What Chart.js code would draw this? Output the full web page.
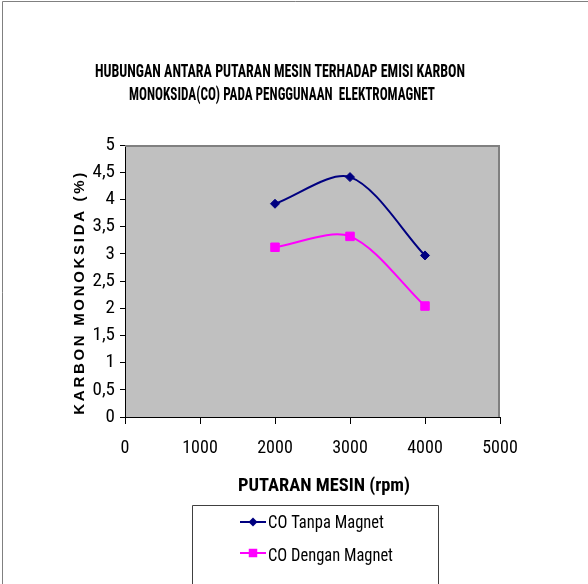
<!DOCTYPE html>
<html>
<head>
<meta charset="utf-8">
<script src="https://cdn.jsdelivr.net/npm/chart.js@4.4.1/dist/chart.umd.min.js"></script>
<style>
  html, body { margin: 0; padding: 0; background: #ffffff; }
  #wrap { width: 588px; height: 584px; }
</style>
</head>
<body>
<div id="wrap"><canvas id="chart" width="588" height="584"></canvas></div>
<script>
// Engine speed (rpm) and CO emission (%) with / without the electromagnet
const rpm = [2000, 3000, 4000];
const coTanpaMagnet = [3.92, 4.41, 2.97];
const coDenganMagnet = [3.12, 3.32, 2.04];

const xTicks = [0, 1000, 2000, 3000, 4000, 5000];
const yTicks = [0, 0.5, 1, 1.5, 2, 2.5, 3, 3.5, 4, 4.5, 5];

const seriesNames = ['CO Tanpa Magnet', 'CO Dengan Magnet'];
const seriesColors = ['#000080', '#FF00FF'];
const seriesMarkers = ['rectRot', 'rect'];

const titleLines = [
  'HUBUNGAN ANTARA PUTARAN MESIN TERHADAP EMISI KARBON',
  'MONOKSIDA(CO) PADA PENGGUNAAN  ELEKTROMAGNET'
];
const xTitle = 'PUTARAN MESIN (rpm)';
const yTitle = 'KARBON MONOKSIDA (%)';

const NARROW = '"Roboto Condensed", "Liberation Sans Narrow", "Arial Narrow", sans-serif';
const SANS = '"Liberation Sans", Arial, sans-serif';

function toPoints(xs, ys) {
  return xs.map((x, i) => ({ x: x, y: ys[i] }));
}

function drawMarker(ctx, style, color, r, x, y) {
  ctx.save();
  ctx.fillStyle = color;
  ctx.beginPath();
  if (style === 'rectRot') {
    ctx.moveTo(x - r, y);
    ctx.lineTo(x, y - r);
    ctx.lineTo(x + r, y);
    ctx.lineTo(x, y + r);
    ctx.closePath();
  } else {
    const s = r * Math.SQRT1_2;
    ctx.rect(x - s, y - s, 2 * s, 2 * s);
  }
  ctx.fill();
  ctx.restore();
}

// Background, frame, plot area, titles and the boxed legend
const decor = {
  id: 'decor',
  beforeDraw(chart) {
    const ctx = chart.ctx;
    const a = chart.chartArea;
    ctx.save();
    ctx.fillStyle = '#ffffff';
    ctx.fillRect(0, 0, chart.width, chart.height);
    // outer frame
    ctx.strokeStyle = '#808080';
    ctx.lineWidth = 1;
    ctx.beginPath();
    ctx.moveTo(2.5, chart.height);
    ctx.lineTo(2.5, 1.5);
    ctx.lineTo(chart.width, 1.5);
    ctx.stroke();
    // plot area
    ctx.fillStyle = '#C0C0C0';
    ctx.fillRect(a.left, a.top, a.right - a.left, a.bottom - a.top);
    ctx.restore();
  },
  beforeDatasetsDraw(chart) {
    const ctx = chart.ctx;
    const a = chart.chartArea;
    ctx.save();
    ctx.strokeStyle = '#808080';
    ctx.lineWidth = 2;
    ctx.beginPath();
    ctx.moveTo(a.left, a.top + 1);
    ctx.lineTo(a.right - 1, a.top + 1);
    ctx.lineTo(a.right - 1, a.bottom);
    ctx.stroke();
    ctx.restore();
  },
  afterDraw(chart) {
    const ctx = chart.ctx;
    const a = chart.chartArea;
    ctx.save();
    ctx.fillStyle = '#000000';
    ctx.textBaseline = 'alphabetic';
    ctx.textAlign = 'center';

    // chart title
    ctx.font = 'bold 18px ' + NARROW;
    ctx.fillText(titleLines[0], 280, 77, 370);
    ctx.fillText(titleLines[1], 282, 100, 306);

    // x axis title
    ctx.font = 'bold 18.5px ' + NARROW;
    ctx.fillText(xTitle, 324, 491, 172);

    // y axis title, letter-spaced
    ctx.font = 'bold 15px ' + SANS;
    ctx.letterSpacing = '0px';
    const plain = ctx.measureText(yTitle).width;
    const spacing = Math.max(0, (242 - plain) / (yTitle.length - 1));
    ctx.letterSpacing = spacing.toFixed(2) + 'px';
    ctx.translate(80, (a.top + a.bottom) / 2 + 10 + spacing / 2);
    ctx.rotate(-Math.PI / 2);
    ctx.textBaseline = 'middle';
    ctx.fillText(yTitle, 0, 0);
    ctx.restore();

    // legend
    ctx.save();
    ctx.strokeStyle = '#404040';
    ctx.lineWidth = 1;
    ctx.beginPath();
    ctx.moveTo(192.5, chart.height + 2);
    ctx.lineTo(192.5, 505.5);
    ctx.lineTo(438.5, 505.5);
    ctx.lineTo(438.5, chart.height + 2);
    ctx.stroke();

    const rows = [522, 553];
    const baselines = [528, 560.5];
    const widths = [116, 125];
    ctx.font = '18px ' + NARROW;
    ctx.textAlign = 'left';
    ctx.textBaseline = 'alphabetic';
    seriesNames.forEach((name, i) => {
      const y = rows[i];
      ctx.strokeStyle = seriesColors[i];
      ctx.lineWidth = 2;
      ctx.beginPath();
      ctx.moveTo(240, y);
      ctx.lineTo(266, y);
      ctx.stroke();
      drawMarker(ctx, seriesMarkers[i], seriesColors[i], i === 0 ? 4.5 : 6, 253, y);
      ctx.fillStyle = '#000000';
      ctx.fillText(name, 268, baselines[i], widths[i]);
    });
    ctx.restore();
  }
};

new Chart(document.getElementById('chart'), {
  type: 'line',
  data: {
    datasets: [
      {
        label: seriesNames[0],
        data: toPoints(rpm, coTanpaMagnet),
        borderColor: seriesColors[0],
        backgroundColor: seriesColors[0],
        pointBackgroundColor: seriesColors[0],
        pointBorderColor: seriesColors[0],
        pointStyle: seriesMarkers[0],
        pointRadius: 4.5,
        pointBorderWidth: 1,
        borderWidth: 2,
        tension: 0.3,
        fill: false
      },
      {
        label: seriesNames[1],
        data: toPoints(rpm, coDenganMagnet),
        borderColor: seriesColors[1],
        backgroundColor: seriesColors[1],
        pointBackgroundColor: seriesColors[1],
        pointBorderColor: seriesColors[1],
        pointStyle: seriesMarkers[1],
        pointRadius: 6,
        pointBorderWidth: 1,
        borderWidth: 2,
        tension: 0.3,
        fill: false
      }
    ]
  },
  options: {
    responsive: false,
    animation: false,
    layout: { padding: { left: 0, right: 88, top: 145, bottom: 0 } },
    plugins: {
      legend: { display: false },
      title: { display: false },
      tooltip: { enabled: false }
    },
    scales: {
      x: {
        type: 'linear',
        min: 0,
        max: 5000,
        afterBuildTicks: (s) => { s.ticks = xTicks.map(v => ({ value: v })); },
        afterFit: (s) => { s.height = 167; },
        ticks: {
          color: '#000000',
          font: { family: NARROW, size: 18 },
          padding: 14,
          maxRotation: 0,
          autoSkip: false,
          callback: (v) => String(v)
        },
        grid: { drawOnChartArea: false, drawTicks: true, tickLength: 7, color: '#000000' },
        border: { color: '#000000', width: 1 }
      },
      y: {
        type: 'linear',
        min: 0,
        max: 5,
        afterBuildTicks: (s) => { s.ticks = yTicks.map(v => ({ value: v })); },
        afterFit: (s) => { s.width = 125; },
        ticks: {
          color: '#000000',
          font: { family: NARROW, size: 19 },
          padding: 5,
          autoSkip: false,
          callback: (v) => String(v).replace('.', ',')
        },
        grid: { drawOnChartArea: false, drawTicks: true, tickLength: 5, color: '#000000' },
        border: { color: '#000000', width: 1 }
      }
    }
  },
  plugins: [decor]
});
</script>
</body>
</html>
